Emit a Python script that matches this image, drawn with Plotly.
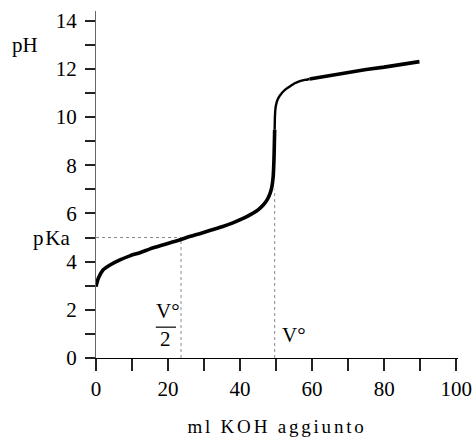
import plotly.graph_objects as go

# ---- data ----
ml_acid = [0, 0.65, 2.0, 3.9, 6.65, 9.4, 12.2, 15, 18, 21, 23.6, 26, 29, 32, 35, 38, 41, 43,
           45, 46.5, 47.5, 48.3, 48.8, 49.2, 49.4, 49.5, 49.6]
ph_acid = [2.96, 3.31, 3.66, 3.86, 4.07, 4.24, 4.37, 4.53, 4.67, 4.8, 4.92, 5.04, 5.17, 5.31,
           5.45, 5.61, 5.8, 5.96, 6.15, 6.36, 6.56, 6.82, 7.08, 7.55, 8.2, 8.8, 9.47]

ml_bend = [49.6, 49.65, 49.72, 49.82, 49.98, 50.2, 50.5, 50.9, 51.4, 52.0, 52.8, 53.8,
           55.2, 56.6, 58.0, 59.3]
ph_bend = [9.47, 9.9, 10.15, 10.35, 10.5, 10.63, 10.75, 10.86, 10.96, 11.06, 11.17, 11.27,
           11.4, 11.49, 11.54, 11.58]

ml_base = [59.3, 65, 70, 75, 80, 85, 89.8]
ph_base = [11.58, 11.73, 11.85, 11.97, 12.07, 12.18, 12.3]

pKa = 5.0
v_half = 23.6
v_eq = 49.6
ph_at_v_eq = 7.0

x_tickvals = [0, 10, 20, 30, 40, 50, 60, 70, 80, 90, 100]
x_ticktext = ["0", "", "20", "", "40", "", "60", "", "80", "", "100"]
y_tickvals = list(range(0, 15))
y_ticktext = ["0", "", "2", "", "4", "", "6", "", "8", "", "10", "", "12", "", "14"]

FONT = "Liberation Serif, Times New Roman, serif"

fig = go.Figure()

ref_line = dict(color="#8a8a8a", width=1, dash="dot")
fig.add_trace(go.Scatter(x=[0, v_half], y=[pKa, pKa], mode="lines", line=ref_line, hoverinfo="skip"))
fig.add_trace(go.Scatter(x=[v_half, v_half], y=[0, pKa], mode="lines", line=ref_line, hoverinfo="skip"))
fig.add_trace(go.Scatter(x=[v_eq, v_eq], y=[0, ph_at_v_eq], mode="lines", line=ref_line, hoverinfo="skip"))

fig.add_trace(go.Scatter(x=ml_acid, y=ph_acid, mode="lines",
                         line=dict(color="black", width=3.6, shape="spline", smoothing=0.6)))
fig.add_trace(go.Scatter(x=ml_bend, y=ph_bend, mode="lines",
                         line=dict(color="black", width=2.4, shape="spline", smoothing=0.5)))
fig.add_trace(go.Scatter(x=ml_base, y=ph_base, mode="lines",
                         line=dict(color="black", width=3.6)))

fig.update_layout(
    width=474, height=439,
    margin=dict(l=96, r=16, t=11, b=81, autoexpand=False),
    paper_bgcolor="white", plot_bgcolor="white",
    showlegend=False,
    font=dict(family=FONT, size=21, color="black"),
    xaxis=dict(range=[0, 100.5], showgrid=False, zeroline=False, automargin=False,
               showline=True, linecolor="black", linewidth=1.2,
               ticks="outside", ticklen=12, tickwidth=1.5, tickcolor="#222",
               tickvals=x_tickvals, ticktext=x_ticktext,
               tickfont=dict(family=FONT, size=21),
               title=dict(text="ml KOH aggiunto", font=dict(family=FONT, size=19), standoff=19)),
    yaxis=dict(range=[0, 14.4], showgrid=False, zeroline=False, automargin=False,
               showline=True, linecolor="#666", linewidth=1.2,
               ticks="outside", ticklen=10, tickwidth=1.5, tickcolor="#222",
               tickvals=y_tickvals, ticktext=y_ticktext,
               tickfont=dict(family=FONT, size=21), ticklabelstandoff=4),
)

fig.add_annotation(text="pH", xref="paper", yref="y", x=-0.155, y=13.0, xanchor="right", yanchor="middle",
                   showarrow=False, font=dict(family=FONT, size=21))
fig.add_annotation(text="p\u200aKa", xref="paper", yref="y", x=-0.066, y=pKa, xanchor="right", yanchor="middle",
                   showarrow=False, font=dict(family=FONT, size=21))
# V°/2 fraction
fig.add_annotation(text="V°", xref="x", yref="y", x=v_half + 0.2, y=1.95, xanchor="right", yanchor="middle",
                   showarrow=False, font=dict(family=FONT, size=21))
fig.add_annotation(text="2", xref="x", yref="y", x=v_half - 4.3, y=0.8, xanchor="center", yanchor="middle",
                   showarrow=False, font=dict(family=FONT, size=21))
fig.add_shape(type="line", xref="x", yref="y", x0=v_half - 7.0, x1=v_half - 1.4, y0=1.28, y1=1.28,
              line=dict(color="black", width=1.2))
fig.add_annotation(text="V°", xref="x", yref="y", x=v_eq + 1.6, y=0.95, xanchor="left", yanchor="middle",
                   showarrow=False, font=dict(family=FONT, size=21))

fig.write_html("out.html", config={"displayModeBar": False}, post_script=(
    "document.head.insertAdjacentHTML('beforeend',"
    "'<style>body{margin:0;overflow:hidden}.xtitle{letter-spacing:2.8px}</style>');"))
